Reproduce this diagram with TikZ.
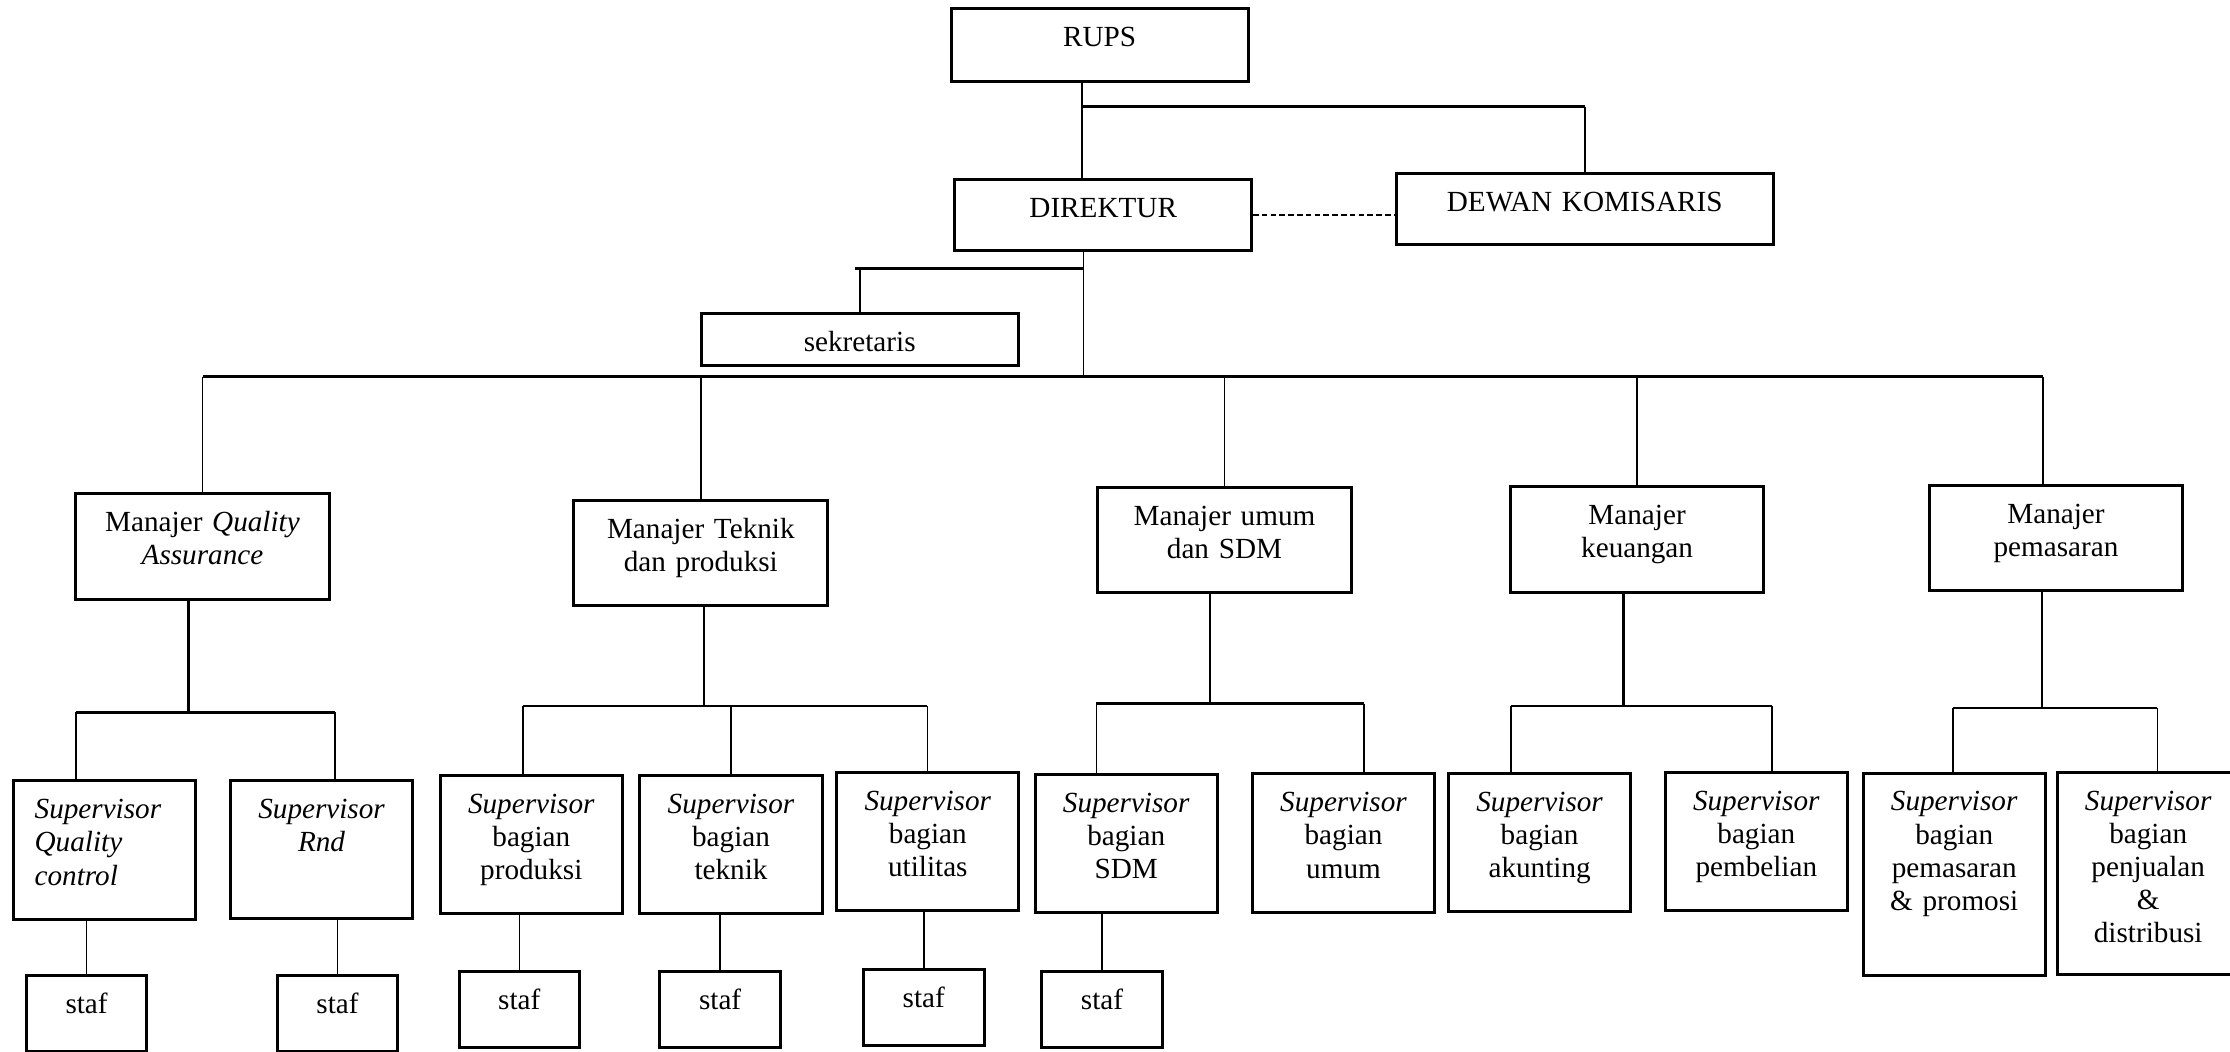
\documentclass[tikz,border=0pt]{standalone}
\usepackage{fontspec}
\setmainfont{Liberation Serif}
\usepackage{tikz}

\begin{document}
\begin{tikzpicture}[x=0.01cm, y=-0.01cm,
    box/.style={draw, line width=0.85pt, align=center, inner xsep=0pt, inner ysep=0pt,
      font=\fontsize{8.3}{9.4}\selectfont, text height=10.8pt},
    headbox/.style={box, text width=2.965cm},
    mgr/.style={box, text width=2.535cm, text depth=19.2pt},
    sup/.style={box, text width=1.82cm, text depth=28.5pt},
    suptall/.style={box, text width=1.82cm, text depth=46.7pt},
    staf/.style={box, text width=1.205cm, text depth=10.9pt},
    conn/.style={line width=0.45pt},
    busline/.style={line width=0.7pt}]
  \path[use as bounding box, fill=white] (0,0) rectangle (2230,1051);

  % pimpinan
  \node[headbox, text depth=10.1pt] (rups) at (1099.7,45) {RUPS};
  \node[headbox, text depth=9.6pt] (dir) at (1103.2,214.9) {DIREKTUR};
  \node[headbox, text width=3.765cm, text depth=9.3pt] (dewan) at (1584.7,209) {DEWAN KOMISARIS};
  \node[headbox, text width=3.165cm, text depth=3.9pt] (sek) at (859.7,339.2) {sekretaris};

  % manajer
  \node[mgr] (mqa) at (202.5,546.3) {Manajer \textit{Quality}\\\textit{Assurance}};
  \node[mgr] (mtek) at (700.8,552.8) {Manajer Teknik\\dan produksi};
  \node[mgr] (mum) at (1224.5,539.8) {Manajer umum\\dan SDM};
  \node[mgr] (mkeu) at (1637.1,539.3) {Manajer\\keuangan};
  \node[mgr] (mpem) at (2056,538) {Manajer\\pemasaran};

  % supervisor
  \node[sup, align=left, text width=1.40cm, inner xsep=0.21cm] (sqc) at (104.7,850)
    {\textit{Supervisor}\\\textit{Quality}\\\textit{control}};
  \foreach \nm/\px/\py/\lbl in {srnd/321.6/849.2/{\textit{Rnd}},
      sprod/531.3/844.6/{bagian\\produksi}, stek/731/844.6/{bagian\\teknik},
      sutil/927.8/841.6/{bagian\\utilitas}, ssdm/1126.2/843.8/{bagian\\SDM},
      sumum/1343.5/843/{bagian\\umum}, sakun/1539.6/842.5/{bagian\\akunting},
      sbeli/1756.3/841.7/{bagian\\pembelian}}
    \node[sup] (\nm) at (\px,\py) {\textit{Supervisor}\\\lbl};
  \node[suptall] (sprom) at (1954.2,874.1)
    {\textit{Supervisor}\\bagian\\pemasaran\\\& promosi};
  \node[suptall] (sjual) at (2148.2,873.7)
    {\textit{Supervisor}\\bagian\\penjualan\\\&\\distribusi};

  % staf
  \foreach \nm/\px/\py in {st1/86.6/1013.5, st2/337.5/1013.5, st3/519.3/1009.8,
      st4/720.1/1009.8, st5/923.8/1007.5, st6/1102/1009.8}
    \node[staf] (\nm) at (\px,\py) {staf};

  % RUPS - direktur - komisaris
  \coordinate (rj) at (1082,106.7);
  \draw[conn] (rups.south -| rj) -- (dir.north -| rj);
  \draw[busline] (rj) -- (rj -| dewan.north);
  \draw[conn] (rj -| dewan.north) -- (dewan.north);
  \draw[conn, dash pattern=on 1.6pt off 0.9pt] (dir.east) -- (dir.east -| dewan.west);

  % direktur - sekretaris - manajer
  \coordinate (dj) at (1083.6,268.7);
  \coordinate (sj) at (855,268.7);
  \coordinate (busl) at (203,376.7);
  \coordinate (busr) at (2043,376.7);
  \draw[conn] (dir.south -| dj) -- (dj |- busl);
  \draw[busline] (sj) -- (dj);
  \draw[conn] (sek.north |- sj) -- (sek.north);
  \draw[busline] (busl) -- (busr);
  \foreach \nm in {mqa, mtek, mum, mkeu}
    \draw[conn] (\nm.north |- busl) -- (\nm.north);
  \draw[conn] (busr) -- (busr |- mpem.north);

  % manajer - supervisor
  \foreach \mg/\xl/\xj/\xr/\yb/\sa/\sb in {mqa/76/188.6/335/712.3/sqc/srnd,
      mtek/522.8/703.9/927.3/705.8/sprod/sutil, mum/1096.3/1209.8/1364/703.6/ssdm/sumum,
      mkeu/1510.7/1623.5/1772/705.8/sakun/sbeli, mpem/1952.8/2042/2157.3/708/sprom/sjual}{
    \coordinate (gl) at (\xl,\yb);
    \coordinate (gj) at (\xj,\yb);
    \coordinate (gr) at (\xr,\yb);
    \draw[busline] (\mg.south -| gj) -- (gj);
    \draw[busline] (gl) -- (gr);
    \draw[conn] (gl) -- (gl |- \sa.north);
    \draw[conn] (gr) -- (gr |- \sb.north);}
  \draw[conn] (stek.north |- 0,705.8) -- (stek.north);

  % supervisor - staf
  \foreach \sv/\st in {sqc/st1, srnd/st2, sprod/st3, stek/st4, sutil/st5, ssdm/st6}
    \draw[conn] (\st.north |- \sv.south) -- (\st.north);
\end{tikzpicture}
\end{document}
